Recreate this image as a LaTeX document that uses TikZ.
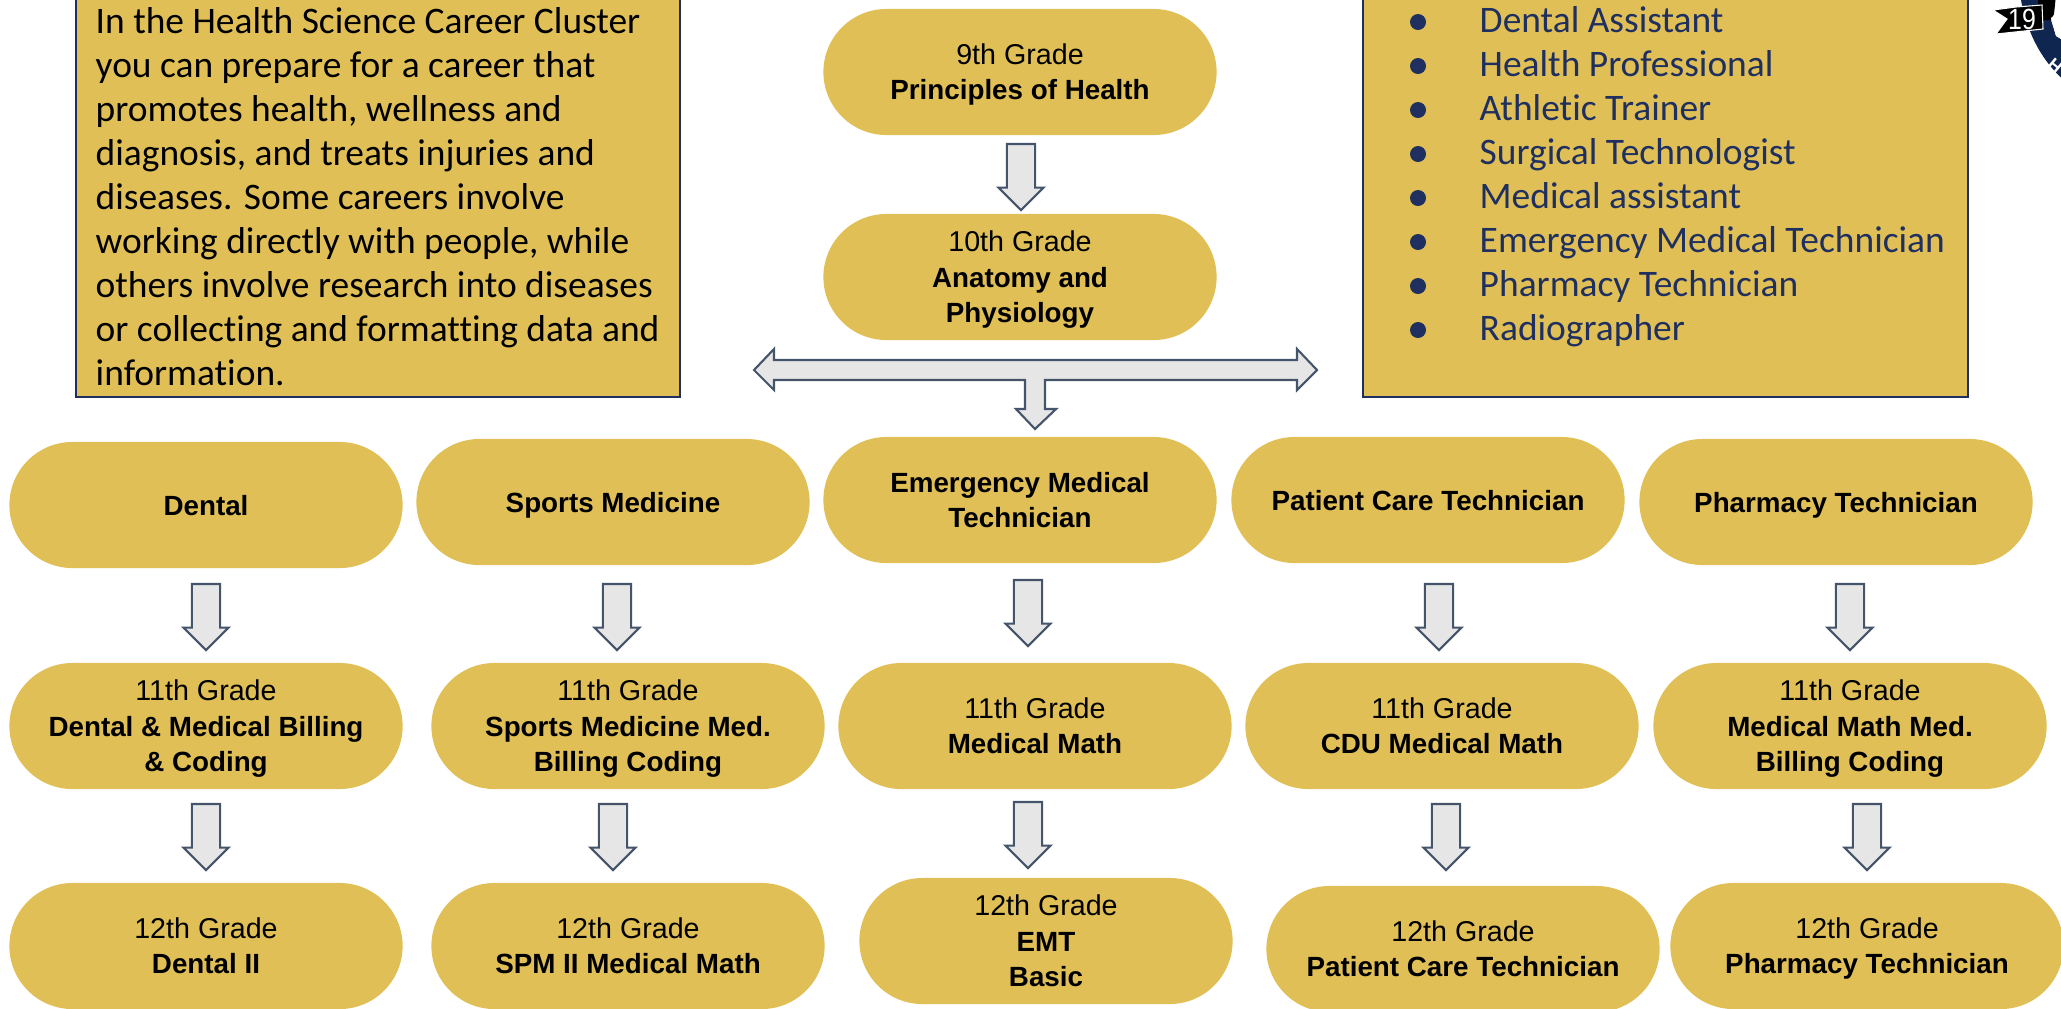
\documentclass[tikz,border=0pt]{standalone}
\usepackage{fontspec}
\setmainfont{Carlito}[Ligatures=CommonOff]
\newfontfamily\pillfont{Liberation Sans}
\usetikzlibrary{shapes.misc,shapes.arrows}
\definecolor{gold}{HTML}{E0C056}
\definecolor{navy}{HTML}{1F2F5F}
\definecolor{slate}{HTML}{44546A}
\definecolor{arrowfill}{HTML}{E7E6E6}
\definecolor{logoblue}{HTML}{0F2650}
\newcommand{\bl}[1]{{\fontsize{7.9pt}{10.2pt}\selectfont\bfseries #1}}
\newcommand{\fl}{\rule{0pt}{8.7pt}}
\newcommand{\el}{\rule[-3pt]{0pt}{0pt}}
\tikzset{
  x=0.01cm,y=-0.01cm,
  pill/.style={rounded rectangle,fill=gold,minimum width=3.93cm,minimum height=1.26cm,inner sep=0pt,align=center,text=black,font=\pillfont\fontsize{8.15pt}{10.2pt}\selectfont},
  card/.style={draw=navy,line width=0.6pt,fill=gold},
  bodyline/.style={anchor=base west,inner sep=0pt,font=\fontsize{10.65pt}{12pt}\selectfont},
  listline/.style={anchor=base west,inner sep=0pt,text=navy,font=\fontsize{10.65pt}{12pt}\selectfont},
  downarrow/.style={single arrow,draw=slate,line width=0.6pt,fill=arrowfill,shape border rotate=270,minimum width=0.45cm,minimum height=0.66cm,single arrow head extend=0.075cm,single arrow head indent=0cm,inner sep=0.115cm,anchor=center},
}
\begin{document}
\begin{tikzpicture}
\useasboundingbox (0,0) rectangle (2061,1008);
\clip (0,0) rectangle (2061,1008);
% cards
\path[card] (76,-5) rectangle (680,397);
\path[card] (1363,-5) rectangle (1968,397);
% left text
\providecommand\comma{,}
\foreach \yy/\tt in {33/In the Health Science Career Cluster,77/you can prepare for a career that,121/promotes health\comma{} wellness and,165/diagnosis\comma{} and treats injuries and,209/diseases. Some careers involve,253/working directly with people\comma{} while,297/others involve research into diseases,341/or collecting and formatting data and,385/information.}{
  \node[bodyline] at (95,\yy) {\tt};
}
% right list
\foreach \yy/\tt in {32/Dental Assistant,76/Health Professional,120/Athletic Trainer,164/Surgical Technologist,208/Medical assistant,252/Emergency Medical Technician,296/Pharmacy Technician,340/Radiographer}{
  \node[listline] at (1479,\yy) {\tt};
  \fill[navy] (1418,\yy-10) circle (8);
}
% pills
\node[pill] (g9) at (1020,72) {\fl 9th Grade\\\bl{Principles of Health}\el};
\node[pill] (g10) at (1020,277) {\fl 10th Grade\\\bl{Anatomy and}\\\bl{Physiology}\el};
\node[pill] (t1) at (206,505) {\fl\bl{Dental}\el};
\node[pill] (t2) at (613,502) {\fl\bl{Sports Medicine}\el};
\node[pill] (t3) at (1020,500) {\fl\bl{Emergency Medical}\\\bl{Technician}\el};
\node[pill] (t4) at (1428,500) {\fl\bl{Patient Care Technician}\el};
\node[pill] (t5) at (1836,502) {\fl\bl{Pharmacy Technician}\el};
\node[pill] (m1) at (206,726) {\fl 11th Grade\\\bl{Dental \& Medical Billing}\\\bl{\& Coding}\el};
\node[pill] (m2) at (628,726) {\fl 11th Grade\\\bl{Sports Medicine Med.}\\\bl{Billing Coding}\el};
\node[pill] (m3) at (1035,726) {\fl 11th Grade\\\bl{Medical Math}\el};
\node[pill] (m4) at (1442,726) {\fl 11th Grade\\\bl{CDU Medical Math}\el};
\node[pill] (m5) at (1850,726) {\fl 11th Grade\\\bl{Medical Math Med.}\\\bl{Billing Coding}\el};
\node[pill] (b1) at (206,946) {\fl 12th Grade\\\bl{Dental II}\el};
\node[pill] (b2) at (628,946) {\fl 12th Grade\\\bl{SPM II Medical Math}\el};
\node[pill,minimum width=3.73cm] (b3) at (1046,941) {\fl 12th Grade\\\bl{EMT}\\\bl{Basic}\el};
\node[pill] (b4) at (1463,949) {\fl 12th Grade\\\bl{Patient Care Technician}\el};
\node[pill] (b5) at (1867,946) {\fl 12th Grade\\\bl{Pharmacy Technician}\el};
% small arrows
\foreach \nm/\xx/\yy in {a0/1021/170,
  a1/206/610,a2/617/610,a3/1028/606,a4/1439/610,a5/1850/610,
  c1/206/830,c2/613/830,c3/1028/828,c4/1446/830,c5/1867/830}{
  \node[downarrow] (\nm) at (\xx,\yy) {};
}
% T arrow
\coordinate (tl) at (754,370);
\coordinate (tr) at (1317,370);
\coordinate (td) at (1035,429);
\path[draw=slate,line width=0.6pt,fill=arrowfill,line join=miter]
  (tl) -- (774,349) -- (774,360) -- (1297,360) -- (1297,349) -- (tr) -- (1297,390) -- (1297,380)
  -- (1045,380) -- (1045,409) -- (1056,409) -- (td) -- (1016,409) -- (1025,409) -- (1025,380)
  -- (774,380) -- (774,390) -- cycle;
% logo fragment
\fill[logoblue] (2020,-5) .. controls (2026,30) and (2040,60) .. (2066,82) -- (2066,42) -- (2056,36) -- (2051,20) -- (2042,20) -- (2042,-5) -- cycle;
\fill[black] (2038,-5) -- (2056,-5) -- (2054,14) -- (2051,20) -- (2038,20) -- cycle;
\fill[white] (2051,18) -- (2066,6) -- (2066,42) -- (2056,36) -- cycle;
\fill[black,draw=white,line width=0.3pt] (1993,10) -- (2016,7) -- (2042,5) -- (2043,29) -- (1996,34) -- (2007,19) -- cycle;
\node[text=white,inner sep=0pt,xscale=.85,font=\pillfont\fontsize{8.3pt}{9pt}\selectfont] (nineteen) at (2022,19) {19};
\node[text=white,inner sep=0pt,rotate=-40,font=\pillfont\bfseries\fontsize{5pt}{6pt}\selectfont] (hh) at (2055,66) {H};
\end{tikzpicture}
\end{document}
